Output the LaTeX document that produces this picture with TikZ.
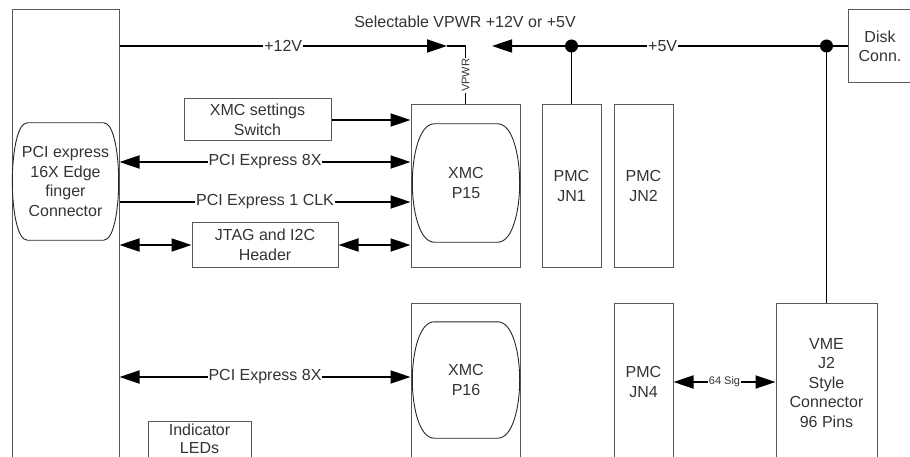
\documentclass[tikz,border=0pt]{standalone}
\usepackage{fontspec}
\setmainfont{Liberation Sans}
\usepackage{tikz}
\usetikzlibrary{arrows.meta,calc,positioning}
\definecolor{boxgray}{rgb}{0.35,0.35,0.35}
\definecolor{txtgray}{rgb}{0.2,0.2,0.2}

% outline of a connector body: flat top and bottom, bulging sides
\newcommand{\capsule}[3]{%
  \draw[capline] ([xshift=#2]#1.north west) -- ([xshift=-#2]#1.north east)
    .. controls ([xshift=-0.3*#2]#1.north east) and ([yshift=#3]#1.east) .. (#1.east)
    .. controls ([yshift=-#3]#1.east) and ([xshift=-0.3*#2]#1.south east) .. ([xshift=-#2]#1.south east)
    -- ([xshift=#2]#1.south west)
    .. controls ([xshift=0.3*#2]#1.south west) and ([yshift=-#3]#1.west) .. (#1.west)
    .. controls ([yshift=#3]#1.west) and ([xshift=0.3*#2]#1.north west) .. cycle;}

\tikzset{
  box/.style={draw=boxgray, line width=1pt, text=txtgray, align=center, inner sep=0pt},
  capnode/.style={text=txtgray, align=center, inner sep=0pt},
  capline/.style={draw=black!85, line width=0.9pt},
  sig/.style={draw=black, line width=1.8pt},
  thinsig/.style={draw=black, line width=1.1pt},
  tip/.style={-{Triangle[length=20pt,width=13pt]}},
  tips/.style={{Triangle[length=20pt,width=13pt]}-{Triangle[length=20pt,width=13pt]}},
  onl/.style={fill=white, inner sep=1pt, text=txtgray},
}

\begin{document}
\begin{tikzpicture}[x=1pt, y=-1pt, font=\fontsize{16}{19.5}\selectfont]
  \useasboundingbox (0,0) rectangle (910,457);
  \clip (0,0) rectangle (910,457);

  % boxes
  \node[box, minimum width=107pt, minimum height=460pt] (board) at (65.5,240) {};
  \node[capnode, minimum width=106pt, minimum height=117pt] (pcie) at (65.5,181.5)
    {PCI express\\16X Edge\\finger\\Connector};
  \node[box, minimum width=64pt, minimum height=73pt] (disk) at (880,46.5) {Disk\\Conn.};
  \node[box, minimum width=147pt, minimum height=42pt] (sw) at (257.5,120) {XMC settings\\Switch};
  \node[box, minimum width=146pt, minimum height=44pt] (jtag) at (265,245) {JTAG and I2C\\Header};
  \node[box, minimum width=109pt, minimum height=162pt] (p15box) at (465.5,186) {};
  \node[capnode, minimum width=107pt, minimum height=118pt] (p15) at (466,183) {XMC\\P15};
  \node[box, minimum width=59pt, minimum height=162pt] (jn1) at (571.5,186) {PMC\\JN1};
  \node[box, minimum width=59pt, minimum height=162pt] (jn2) at (643.5,186) {PMC\\JN2};
  \node[box, minimum width=109pt, minimum height=180pt] (p16box) at (465.5,393) {};
  \node[capnode, minimum width=107pt, minimum height=116pt] (p16) at (466,380) {XMC\\P16};
  \node[box, minimum width=59pt, minimum height=158pt] (jn4) at (643.5,382) {PMC\\JN4};
  \node[box, minimum width=101pt, minimum height=160pt] (vme) at (826.5,383)
    {VME\\J2\\Style\\Connector\\96 Pins};
  \node[box, minimum width=103pt, minimum height=36pt, font=\fontsize{16}{18.5}\selectfont] (leds) at (199.5,439) {Indicator\\LEDs};
  \capsule{pcie}{15pt}{26pt}
  \capsule{p15}{22pt}{26pt}
  \capsule{p16}{22pt}{26pt}

  % power
  \node[text=txtgray] (sel) at (465,22) {Selectable VPWR +12V or +5V};
  \coordinate (sel12) at (447,46);
  \coordinate (sel5) at (492,46);
  \coordinate (j1) at (jn1.north |- sel5);
  \coordinate (j2) at (vme.north |- sel5);
  \coordinate (vp) at (p15box.north |- sel12);
  \draw[sig,tip] (board.east |- sel12) -- node[onl]{+12V} (sel12);
  \draw[thinsig] (sel12) -- (vp) -- node[onl, rotate=90, font=\fontsize{11}{12}\selectfont]{VPWR} (p15box.north);
  \draw[sig,tip] (disk.west |- sel5) -- node[onl, pos=0.52]{+5V} (sel5);
  \draw[sig] (j1) -- (jn1.north);
  \draw[sig] (j2) -- (vme.north);
  \fill (j1) circle (6.5pt);
  \fill (j2) circle (6.5pt);

  % signals
  \coordinate (yx8) at (0,162);
  \coordinate (yclk) at (0,202);
  \coordinate (yx8b) at (0,377);
  \draw[sig,tip] (sw.east) -- (sw.east -| p15box.west);
  \draw[sig,tips] (board.east |- yx8) -- node[onl]{PCI Express 8X} (p15box.west |- yx8);
  \draw[sig,tip] (board.east |- yclk) -- node[onl]{PCI Express 1 CLK} (p15box.west |- yclk);
  \draw[sig,tips] (board.east |- jtag.west) -- (jtag.west);
  \draw[sig,tips] (jtag.east) -- (jtag.east -| p15box.west);
  \draw[sig,tips] (board.east |- yx8b) -- node[onl]{PCI Express 8X} (p16box.west |- yx8b);
  \draw[sig,tips] (jn4.east) -- node[onl, font=\fontsize{11}{12}\selectfont]{64 Sig} (jn4.east -| vme.west);
\end{tikzpicture}
\end{document}
